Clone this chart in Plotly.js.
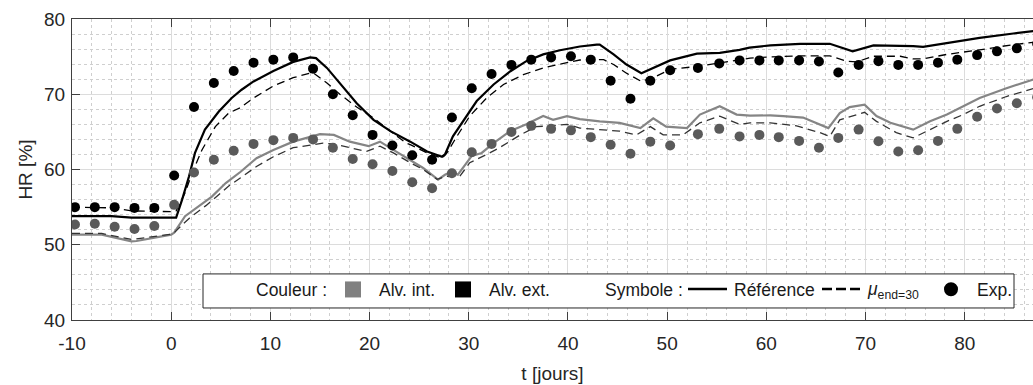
<!DOCTYPE html>
<html><head><meta charset="utf-8">
<script src="https://cdn.plot.ly/plotly-3.0.1.min.js"></script>
<style>html,body{margin:0;padding:0;background:#fff}#chart{width:1033px;height:385px}</style>
</head><body><div id="chart"></div>
<script>
// Experimental points (t in days)
const tExp = [-9.7,-7.7,-5.7,-3.7,-1.7,0.3,2.3,4.3,6.3,8.3,10.3,12.3,14.3,16.3,18.3,20.3,22.3,24.3,26.3,28.3,30.3,32.3,34.3,36.3,38.3,40.3,42.3,44.3,46.3,48.3,50.3,53.1,55.25,57.3,59.3,61.25,63.3,65.3,67.25,69.3,71.3,73.3,75.3,77.3,79.25,81.25,83.25,85.25,87.3];
const hrExpExt = [55.0,55.0,55.0,54.9,54.9,59.2,68.3,71.5,73.1,74.2,74.6,74.9,73.4,70.0,67.2,64.6,63.2,61.9,61.3,66.9,70.8,72.7,73.9,74.6,74.9,75.05,74.6,71.8,69.4,71.8,73.2,73.5,74.1,74.5,74.5,74.5,74.5,74.35,72.9,73.9,74.4,73.9,73.9,74.2,74.6,75.2,75.7,76.1,76.7];
const hrExpInt = [52.7,52.8,52.4,52.1,52.5,55.3,59.6,61.3,62.5,63.4,63.9,64.2,64.0,62.9,61.4,60.7,59.8,58.3,57.5,59.5,62.3,63.4,65.0,65.8,65.4,65.2,64.3,63.3,62.1,63.7,63.2,64.7,65.4,64.4,64.6,64.3,63.8,62.9,64.2,65.3,63.75,62.4,62.55,63.8,65.4,67.0,68.1,68.8,69.6];

// Référence, Alv. ext.
const tRefExt = [-10,-6,-4,0,0.5,1.1,1.8,2.4,3.4,4.8,6.1,7.1,8.3,10.3,12.3,14.0,14.6,15.7,17.0,18.7,20.4,22.1,24.1,25.8,27.3,27.6,28.4,29.5,30.8,32.5,34.2,35.8,37.5,39.2,41.2,42.9,43.2,44.6,45.9,47.4,48.9,50.3,53.0,55.3,57.3,58.3,60.4,63.4,66.4,67.6,68.7,70.8,72.5,74.8,75.8,78.2,81.5,84.9,87];
const hrRefExt = [53.8,53.8,53.6,53.55,53.6,56.0,59.1,62.2,65.3,67.7,69.5,70.6,71.7,73.1,74.3,74.9,74.8,73.5,71.5,68.8,66.6,65.1,63.7,62.4,61.7,62.0,64.4,66.6,69.1,71.3,73.06,74.4,75.3,75.85,76.35,76.6,76.6,75.3,73.95,72.8,73.7,74.5,75.4,75.5,75.9,76.2,76.5,76.7,76.7,76.2,75.7,76.5,76.5,76.4,76.3,76.8,77.5,78.07,78.4];

// mu_end=30, Alv. ext.
const tMuExt = [-10,-6,-4,0,0.5,1.4,2.1,3.1,4.45,5.8,6.94,8.3,10.3,12.3,14.0,14.4,15.7,17.0,18.7,20.4,22.1,23.7,24.1,25.8,27.3,27.8,28.8,30.1,31.8,33.5,35.5,37.5,39.2,41.2,43.6,44.6,45.9,47.4,48.9,50.3,53.0,55.3,57.3,58.35,60.4,63.4,66.4,68.1,69.1,70.8,73.5,74.8,75.8,78.2,81.5,84.9,87];
const hrMuExt = [55.0,54.9,54.5,54.4,54.5,56.9,59.5,62.6,65.7,67.5,68.2,69.5,71.1,72.2,72.8,72.75,71.5,70.0,68.3,66.85,65.1,63.5,63.3,62.2,61.5,62.2,64.4,67.1,69.5,71.3,72.6,73.5,74.0,74.55,74.6,73.95,72.8,71.7,72.4,73.3,73.7,74.2,74.6,74.8,74.96,75.1,75.1,74.4,74.3,75.05,75.05,74.7,74.7,75.3,75.9,76.6,76.9];

// Référence, Alv. int.
const tRefInt = [-10,-7,-4,-3.5,0,0.3,1.4,2.8,4.1,5.5,7.0,8.6,10.3,12.3,14.3,15.0,16.4,18.0,19.9,21.05,22.4,24.1,25.4,26.9,27.6,28.4,28.9,30.3,31.3,32.5,34.15,35.8,37.5,38.5,39.9,41.2,43.2,45.2,47.3,48.6,49.9,52.0,53.3,55.3,57.0,58.35,60.4,61.7,63.7,66.25,67.4,68.4,69.9,71.1,72.5,74.8,76.5,78.2,79.85,81.5,84.2,87];
const hrRefInt = [51.35,51.35,50.45,50.5,51.35,51.6,53.8,55.1,56.4,58.2,59.7,61.5,62.6,63.7,64.4,64.7,64.6,63.7,63.1,63.7,62.6,61.2,60.2,58.65,59.3,59.8,59.3,61.8,62.2,63.5,65.1,66.0,67.1,66.6,67.1,66.7,66.4,66.2,65.5,66.8,65.7,65.5,67.3,68.4,67.3,67.15,67.2,67.1,66.9,65.5,67.5,68.3,68.6,67.1,66.2,65.3,66.4,67.3,68.4,69.5,70.8,72.0];

// mu_end=30, Alv. int.
const tMuInt = [-10,-7,-4,0,0.3,1.8,3.5,5.8,7.0,8.6,10.3,12.3,14.3,15.3,16.3,18.0,19.7,21.05,22.4,24.1,25.4,26.8,27.8,29.1,30.1,31.8,33.1,35.2,36.8,38.2,39.9,41.2,43.2,45.2,46.9,48.3,49.6,51.6,53.3,55.3,57.3,58.35,60.4,63.05,65.4,66.4,67.4,69.9,71.1,73.1,74.8,76.5,78.2,79.85,81.5,84.2,87];
const hrMuInt = [51.5,51.5,50.7,51.4,51.6,53.5,55.2,57.8,58.9,60.4,61.7,62.9,63.3,63.5,63.4,62.9,62.4,63.1,62.2,60.9,60.0,58.7,59.1,59.1,60.9,62.0,62.9,64.6,65.7,65.8,66.0,65.5,65.3,65.1,64.6,65.7,64.6,64.6,66.2,67.1,66.0,66.2,66.2,65.8,64.9,64.4,66.6,67.6,66.4,64.9,64.2,65.3,66.4,67.3,68.4,69.7,70.8];

const xTickVals = [-10,0,10,20,30,40,50,60,70,80];
const xTickText = ['-10','0','10','20','30','40','50','60','70','80'];
const yTickVals = [40,50,60,70,80];
const yTickText = ['40','50','60','70','80'];

const FONT = 'Liberation Sans, Arial, sans-serif';
const GRAY_LINE = '#858585', GRAY_DOT = '#5a5a5a', BLACK = '#000000';

const traces = [
  {x:tRefInt, y:hrRefInt, mode:'lines', line:{color:GRAY_LINE, width:2.2}, showlegend:false},
  {x:tMuInt, y:hrMuInt, mode:'lines', line:{color:'#333333', width:1.3, dash:'8px,5px'}, showlegend:false},
  {x:tRefExt, y:hrRefExt, mode:'lines', line:{color:BLACK, width:2.2}, showlegend:false},
  {x:tMuExt, y:hrMuExt, mode:'lines', line:{color:BLACK, width:1.3, dash:'8px,5px'}, showlegend:false},
  {x:tExp, y:hrExpInt, mode:'markers', marker:{color:GRAY_DOT, size:10}, showlegend:false},
  {x:tExp, y:hrExpExt, mode:'markers', marker:{color:BLACK, size:10}, showlegend:false}
];

// legend drawn as a MATLAB-style box: pixel -> paper helpers
const L = 72, W = 961, B = 320, H = 300.5;
const P = px => (px - L) / W;
const Q = py => (B - py) / H;
const ty = Q(290.5);
const txt = (x, s) => ({xref:'paper', yref:'paper', x:P(x), y:ty, xanchor:'left', yanchor:'middle', showarrow:false, text:s, font:{family:FONT, size:17.5, color:'#1a1a1a'}});

const shapes = [
  {type:'rect', xref:'paper', yref:'paper', x0:P(203), x1:P(1014), y0:Q(308), y1:Q(274), fillcolor:'#ffffff', line:{color:'#262626', width:1}, layer:'above'},
  {type:'rect', xref:'paper', yref:'paper', x0:P(345), x1:P(361), y0:Q(297.5), y1:Q(281.5), fillcolor:'#808080', line:{width:0}, layer:'above'},
  {type:'rect', xref:'paper', yref:'paper', x0:P(455), x1:P(471), y0:Q(297.5), y1:Q(281.5), fillcolor:'#000000', line:{width:0}, layer:'above'},
  {type:'line', xref:'paper', yref:'paper', x0:P(688), x1:P(727), y0:Q(289), y1:Q(289), line:{color:'#000', width:2.5}, layer:'above'},
  {type:'line', xref:'paper', yref:'paper', x0:P(822), x1:P(862), y0:Q(289), y1:Q(289), line:{color:'#000', width:2.5, dash:'10px,4px'}, layer:'above'},
  {type:'circle', xref:'paper', yref:'paper', x0:P(944), x1:P(958), y0:Q(296.3), y1:Q(282.3), fillcolor:'#000', line:{width:0}, layer:'above'}
];

const annotations = [
  txt(254, 'Couleur :'),
  txt(376.5, 'Alv. int.'),
  txt(486.5, 'Alv. ext.'),
  txt(602.5, 'Symbole :'),
  txt(731.5, 'Référence'),
  txt(864.5, '<i>μ</i><sub>end=30</sub>'),
  txt(975, 'Exp.')
];

const axisCommon = {
  ticks:'inside', ticklen:8, tickwidth:1, tickcolor:'#404040',
  showline:true, linecolor:'#404040', linewidth:1,
  showgrid:true, gridcolor:'#dcdcdc', gridwidth:1, zeroline:false,
  tickfont:{family:FONT, size:19, color:'#262626'}
};

const layout = {
  width:1033, height:385,
  margin:{l:72, r:0, t:19, b:65, pad:0},
  paper_bgcolor:'#ffffff', plot_bgcolor:'#ffffff',
  showlegend:false,
  font:{family:FONT, color:'#262626'},
  xaxis: Object.assign({}, axisCommon, {
    range:[-10, 86.88], tickmode:'array', tickvals:xTickVals, ticktext:xTickText,
    mirror:'ticks', ticklabelstandoff:6,
    minor:{tickmode:'linear', tick0:0, dtick:2, showgrid:true, gridcolor:'#cfcfcf', griddash:'dot', gridwidth:1, ticks:''},
    title:{text:'t [jours]', font:{family:FONT, size:19, color:'#262626'}, standoff:13}
  }),
  yaxis: Object.assign({}, axisCommon, {
    range:[40, 80], tickmode:'array', tickvals:yTickVals, ticktext:yTickText,
    mirror:false, ticklabelstandoff:2,
    minor:{tickmode:'linear', tick0:0, dtick:2, showgrid:true, gridcolor:'#cfcfcf', griddash:'dot', gridwidth:1, ticks:''},
    title:{text:'HR [%]', font:{family:FONT, size:19, color:'#262626'}, standoff:6}
  }),
  shapes: shapes,
  annotations: annotations
};

Plotly.newPlot('chart', traces, layout, {staticPlot:true, displayModeBar:false});
</script>
</body></html>
